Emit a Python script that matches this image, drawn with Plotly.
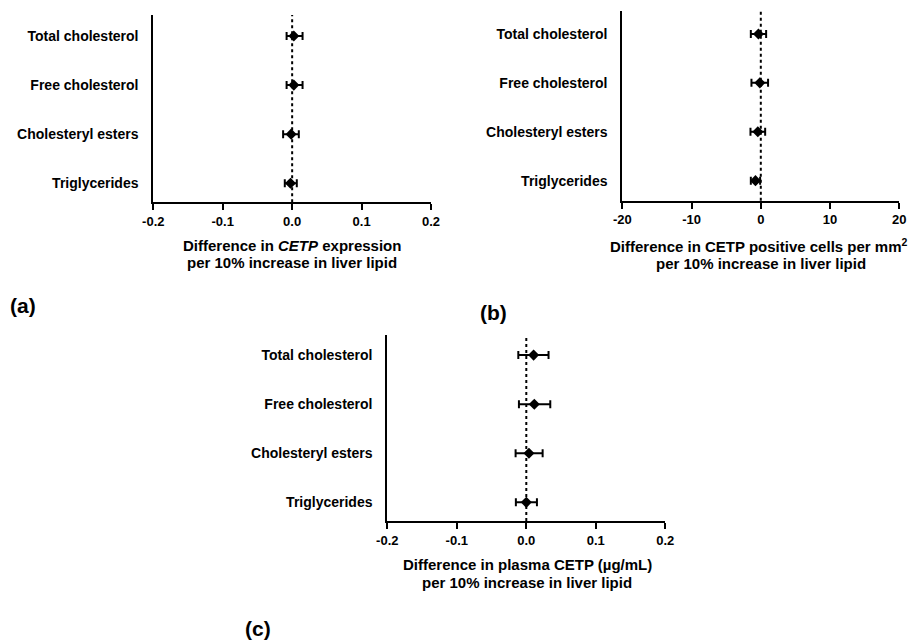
import plotly.graph_objects as go

categories = ["Total cholesterol", "Free cholesterol", "Cholesteryl esters", "Triglycerides"]

# Panel (a): CETP expression
a_est = [0.0024, 0.0024, -0.0015, -0.0024]
a_low = [-0.008, -0.008, -0.013, -0.0106]
a_high = [0.015, 0.015, 0.0096, 0.0067]

# Panel (b): CETP positive cells per mm2
b_est = [-0.34, -0.14, -0.43, -0.77]
b_low = [-1.44, -1.35, -1.49, -1.44]
b_high = [0.77, 1.05, 0.63, -0.10]

# Panel (c): plasma CETP
c_est = [0.0105, 0.0115, 0.0038, 0.0]
c_low = [-0.0115, -0.0106, -0.0154, -0.015]
c_high = [0.032, 0.0345, 0.0235, 0.0153]

ab_ticks = [-0.2, -0.1, 0.0, 0.1, 0.2]
ab_ticktext = ["-0.2", "-0.1", "0.0", "0.1", "0.2"]
b_ticks = [-20, -10, 0, 10, 20]
b_ticktext = ["-20", "-10", "0", "10", "20"]

ypos = [3, 2, 1, 0]
W, H = 910, 640
FONT = "Liberation Sans, Arial, sans-serif"

fig = go.Figure()

def add_panel(est, low, high, xa, ya):
    fig.add_trace(go.Scatter(
        x=est, y=ypos, mode="markers",
        marker=dict(symbol="diamond", size=8.5, color="black"),
        error_x=dict(type="data", symmetric=False,
                     array=[h - e for h, e in zip(high, est)],
                     arrayminus=[e - l for e, l in zip(est, low)],
                     color="black", thickness=2, width=4),
        xaxis=xa, yaxis=ya, showlegend=False, hoverinfo="x+y"))

add_panel(a_est, a_low, a_high, "x", "y")
add_panel(b_est, b_low, b_high, "x2", "y2")
add_panel(c_est, c_low, c_high, "x3", "y3")

def px_x(a, b):
    return [a / W, b / W]

def px_y(top, bottom):
    return [1 - bottom / H, 1 - top / H]

tickfont = dict(family=FONT, size=13, color="black")
catfont = dict(family=FONT, size=14, color="black")

def xaxis(dom, rng, tv, tt, anchor):
    return dict(domain=dom, range=rng, tickvals=tv, ticktext=["<b>%s</b>" % t for t in tt],
                anchor=anchor, automargin=False,
                showline=True, linecolor="black", linewidth=2, ticks="outside",
                ticklen=6, tickwidth=2, tickcolor="black", showgrid=False,
                zeroline=False, tickfont=tickfont, fixedrange=True)

def yaxis(dom, rng, anchor):
    return dict(domain=dom, range=rng, tickvals=ypos,
                ticktext=["<b>%s</b>" % t for t in categories], anchor=anchor,
                automargin=False,
                showline=True, linecolor="black", linewidth=2, ticks="",
                showgrid=False, zeroline=False, tickfont=catfont,
                ticklabelstandoff=10, fixedrange=True)

fig.update_layout(
    template="none",
    width=W, height=H,
    margin=dict(l=0, r=0, t=0, b=0, autoexpand=False),
    plot_bgcolor="white", paper_bgcolor="white",
    font=dict(family=FONT, color="black"),
    xaxis=xaxis(px_x(153.3, 431), [-0.2, 0.2], ab_ticks, ab_ticktext, "y"),
    yaxis=yaxis(px_y(15, 202.3), [-0.39, 3.43], "x"),
    xaxis2=xaxis(px_x(622.3, 899.3), [-20, 20], b_ticks, b_ticktext, "y2"),
    yaxis2=yaxis(px_y(11, 200.7), [-0.41, 3.47], "x2"),
    xaxis3=xaxis(px_x(387.3, 665.3), [-0.2, 0.2], ab_ticks, ab_ticktext, "y3"),
    yaxis3=yaxis(px_y(335, 521), [-0.38, 3.41], "x3"),
)

for xr, yr in [("x", "y"), ("x2", "y2"), ("x3", "y3")]:
    fig.add_shape(type="line", xref=xr, yref=yr + " domain", x0=0, x1=0, y0=0, y1=1,
                  line=dict(color="black", width=2, dash="dot"), layer="below")

titlefont = dict(family=FONT, size=15, color="black")

def add_text(x, y, text, font, xanchor="center"):
    fig.add_annotation(x=x / W, y=1 - y / H, xref="paper", yref="paper", text=text,
                       showarrow=False, font=font, xanchor=xanchor, yanchor="middle")

add_text(292, 245, "<b>Difference in <i>CETP</i> expression</b>", titlefont)
add_text(292, 262, "<b>per 10% increase in liver lipid</b>", titlefont)
add_text(759, 245, "<b>Difference in CETP positive cells per mm<sup>2</sup></b>", titlefont)
add_text(761, 263, "<b>per 10% increase in liver lipid</b>", titlefont)
add_text(527, 564, "<b>Difference in plasma CETP (µg/mL)</b>", titlefont)
add_text(527, 582, "<b>per 10% increase in liver lipid</b>", titlefont)

labfont = dict(family=FONT, size=21, color="black")
add_text(8, 305, "<b>(a)</b>", labfont, "left")
add_text(478, 312, "<b>(b)</b>", labfont, "left")
add_text(243, 628, "<b>(c)</b>", labfont, "left")

fig.write_html("out.html", config={"displayModeBar": False},
               post_script="document.body.style.margin='0';document.body.style.overflow='hidden';")
